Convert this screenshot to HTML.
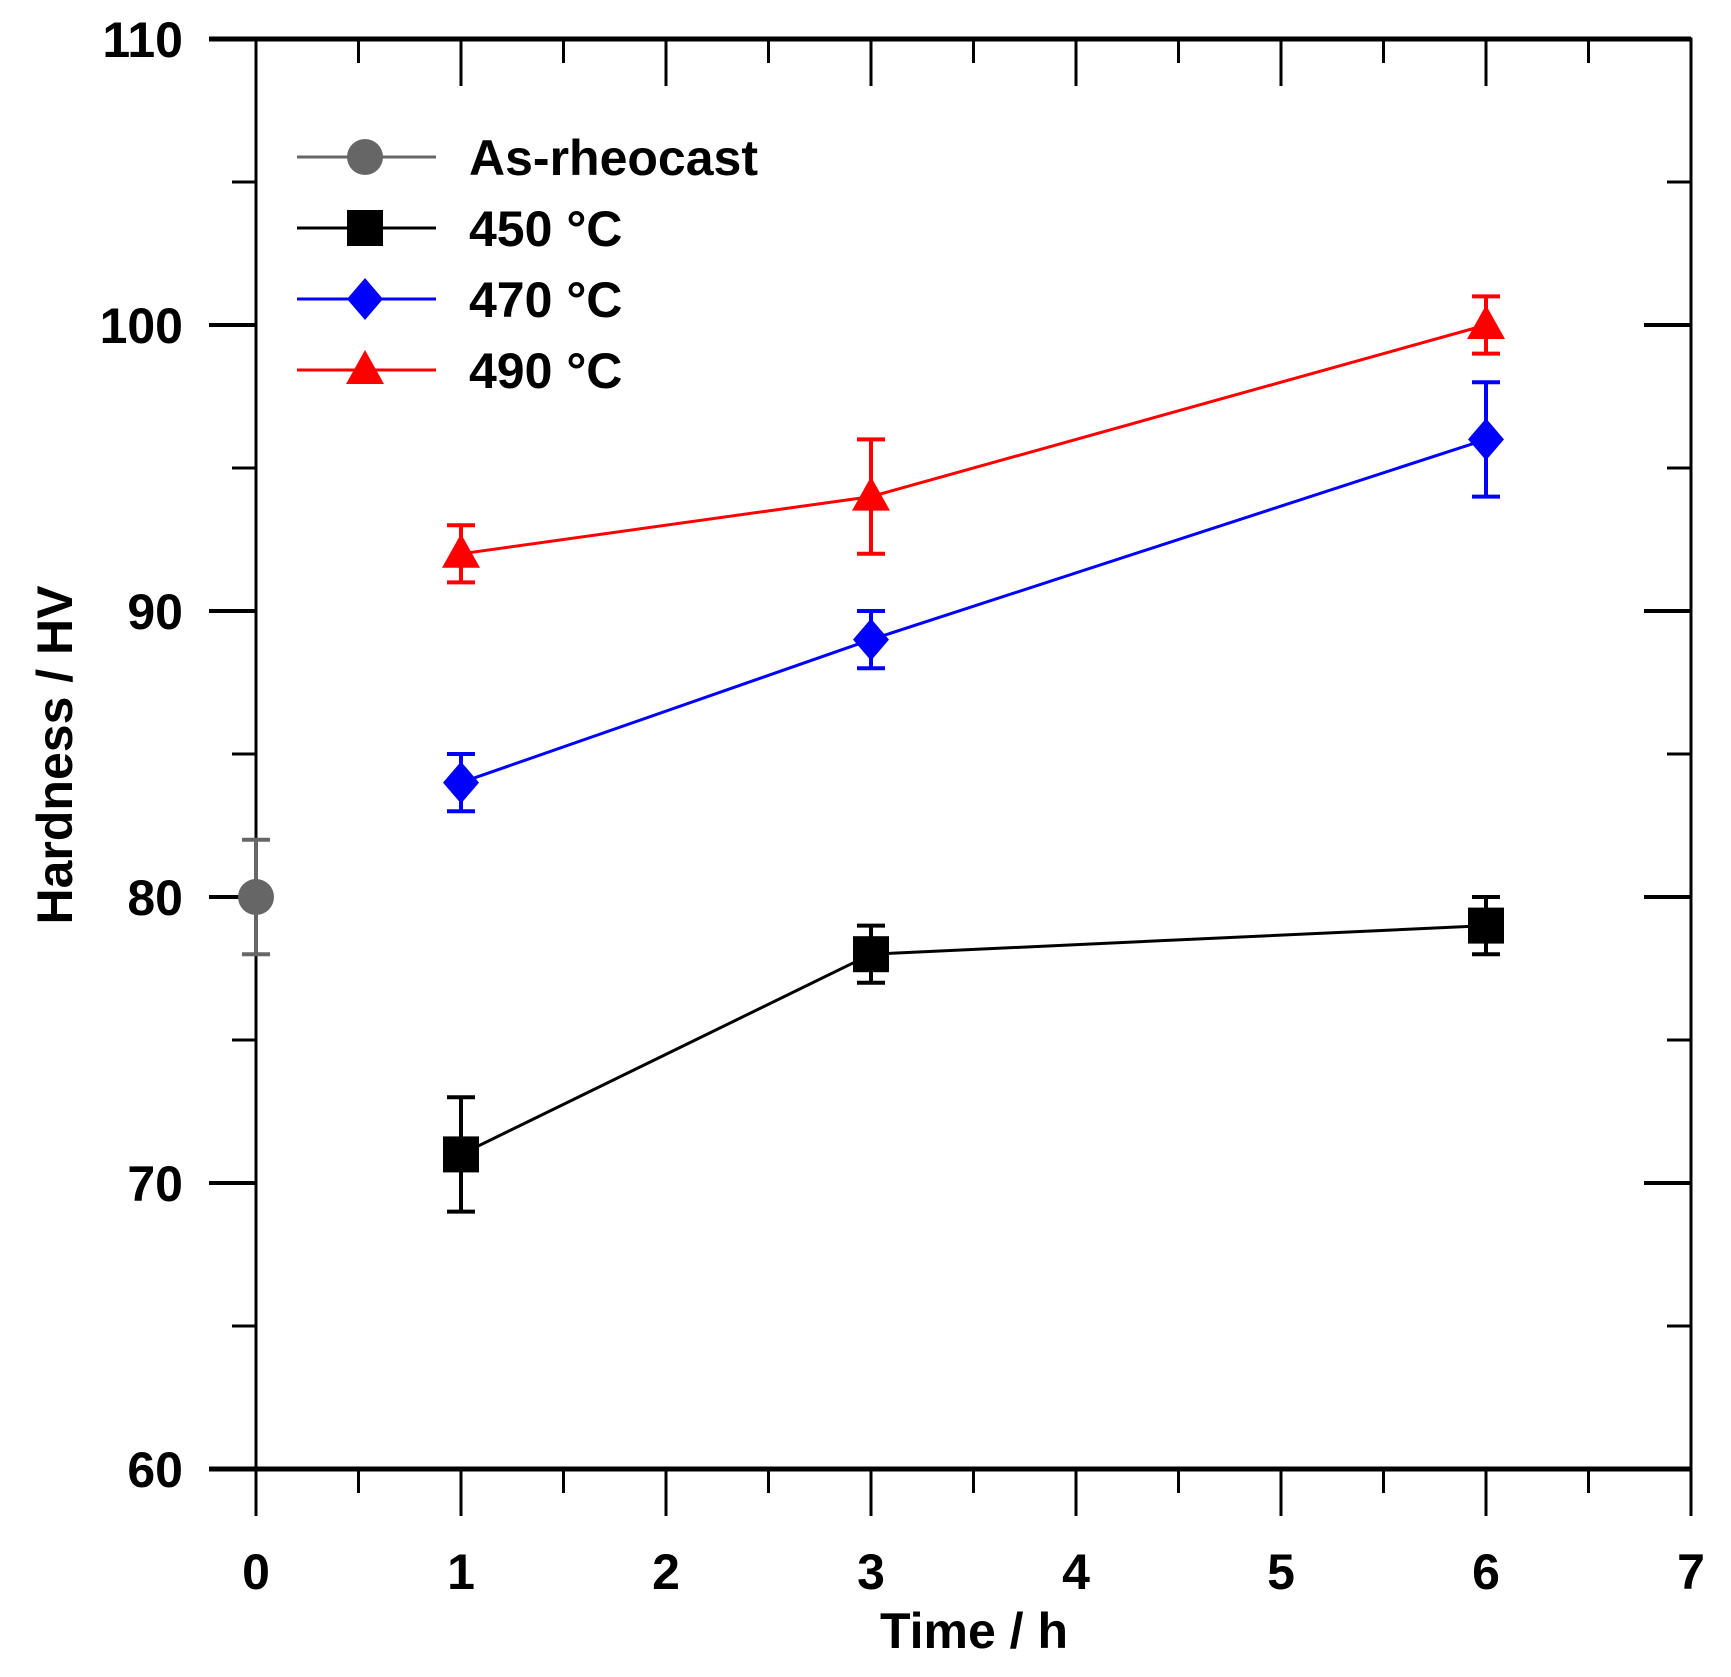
<!DOCTYPE html>
<html><head><meta charset="utf-8"><style>
html,body{margin:0;padding:0;background:#fff;}
svg{display:block;}
text{font-family:"Liberation Sans",Arial,sans-serif;font-weight:bold;fill:#000;}
</style></head><body>
<svg id="chart" width="1731" height="1677" viewBox="0 0 1731 1677" xmlns="http://www.w3.org/2000/svg">
<g id="axes"></g>
<g id="series"></g>
<g id="legend"></g>
<text transform="translate(72,755) rotate(-90)" text-anchor="middle" font-size="50">Hardness / HV</text>
<text x="974" y="1648" text-anchor="middle" font-size="50">Time / h</text>
</svg>
<script>
const xTicks = [0,1,2,3,4,5,6,7];
const yTicks = [60,70,80,90,100,110];
const seriesNames = ["As-rheocast","450 °C","470 °C","490 °C"];
const asX = [0];
const asY = [80];
const asErr = [2];
const x450 = [1,3,6];
const y450 = [71,78,79];
const e450 = [2,1,1];
const x470 = [1,3,6];
const y470 = [84,89,96];
const e470 = [1,1,2];
const x490 = [1,3,6];
const y490 = [92,94,100];
const e490 = [1,2,1];

const L=256,R=1691,T=39,B=1469;
const NS="http://www.w3.org/2000/svg";
function sx(v){return L+(v-0)/(7-0)*(R-L);}
function sy(v){return B-(v-60)/(110-60)*(B-T);}
function mk(tag,attrs,parent){const e=document.createElementNS(NS,tag);for(const k in attrs)e.setAttribute(k,attrs[k]);parent.appendChild(e);return e;}
const axes=document.getElementById('axes');
// frame
let fr=mk('rect',{x:L,y:T,width:R-L,height:B-T,fill:'none',stroke:'#000','stroke-width':3},axes);


let tl=mk('line',{x1:L-47,y1:T,x2:R,y2:T,stroke:'#000','stroke-width':5},axes);


let bl=mk('line',{x1:L-47,y1:B,x2:R,y2:B,stroke:'#000','stroke-width':5},axes);


// x ticks
xTicks.forEach((v,i)=>{
  const x=sx(v);
  let t=mk('line',{x1:x,y1:B,x2:x,y2:B+47,stroke:'#000','stroke-width':3},axes);
  
  
  let t2=mk('line',{x1:x,y1:T,x2:x,y2:T+47,stroke:'#000','stroke-width':3},axes);
  
  
  if(i<xTicks.length-1){
    const xm=sx(v+0.5);
    let m=mk('line',{x1:xm,y1:B,x2:xm,y2:B+24,stroke:'#000','stroke-width':3},axes);
    
    
    let m2=mk('line',{x1:xm,y1:T,x2:xm,y2:T+24,stroke:'#000','stroke-width':3},axes);
    
    
  }
  let lb=mk('text',{x:x,y:B+120,'text-anchor':'middle','font-size':50},axes);
  lb.textContent=v;
  
  
});
// y ticks
yTicks.forEach((v,i)=>{
  const y=sy(v);
  let t=mk('line',{x1:L-47,y1:y,x2:L,y2:y,stroke:'#000','stroke-width':4},axes);
  
  
  let t2=mk('line',{x1:R-47,y1:y,x2:R,y2:y,stroke:'#000','stroke-width':4},axes);
  
  
  if(i<yTicks.length-1){
    const ym=sy(v+5);
    let m=mk('line',{x1:L-24,y1:ym,x2:L,y2:ym,stroke:'#000','stroke-width':3},axes);
    
    
    let m2=mk('line',{x1:R-24,y1:ym,x2:R,y2:ym,stroke:'#000','stroke-width':3},axes);
    
    
  }
  let lb=mk('text',{x:L-73,y:y+18,'text-anchor':'end','font-size':50},axes);
  lb.textContent=v;
  
  
});
function marker(shape,cx,cy,color,parent){
  let e;
  if(shape==='circle') e=mk('circle',{cx:cx,cy:cy,r:18,fill:color},parent);
  else if(shape==='square') e=mk('rect',{x:cx-18,y:cy-18,width:36,height:36,fill:color},parent);
  else if(shape==='diamond') e=mk('polygon',{points:`${cx},${cy-21} ${cx+18},${cy} ${cx},${cy+21} ${cx-18},${cy}`,fill:color},parent);
  else e=mk('polygon',{points:`${cx},${cy-20} ${cx+19},${cy+14} ${cx-19},${cy+14}`,fill:color},parent);
  return e;
}
const ser=document.getElementById('series');
const defs=[
  {name:'as-rheocast',xs:asX,ys:asY,es:asErr,color:'#666',shape:'circle'},
  {name:'450c',xs:x450,ys:y450,es:e450,color:'#000',shape:'square'},
  {name:'470c',xs:x470,ys:y470,es:e470,color:'#0000ff',shape:'diamond'},
  {name:'490c',xs:x490,ys:y490,es:e490,color:'#ff0000',shape:'triangle'}
];
defs.forEach(d=>{
  const g=mk('g',{},ser);
  
  
  if(d.xs.length>1){
    const pl=mk('polyline',{points:d.xs.map((x,i)=>sx(x)+','+sy(d.ys[i])).join(' '),fill:'none',stroke:d.color,'stroke-width':3},g);
    
    
  }
  d.xs.forEach((x,i)=>{
    const cx=sx(x),y1=sy(d.ys[i]+d.es[i]),y2=sy(d.ys[i]-d.es[i]);
    const eb=mk('path',{d:`M${cx},${y1}V${y2}M${cx-14},${y1}H${cx+14}M${cx-14},${y2}H${cx+14}`,stroke:d.color,'stroke-width':4,fill:'none'},g);
    
    
    const m=marker(d.shape,cx,sy(d.ys[i]),d.color,g);
    
    
  });
});
const lg=document.getElementById('legend');
const legY=[157,228,299,370];
defs.forEach((d,i)=>{
  const g=mk('g',{},lg);
  
  
  mk('line',{x1:297,y1:legY[i],x2:436,y2:legY[i],stroke:d.color,'stroke-width':3},g);
  marker(d.shape,365,legY[i],d.color,g);
  const t=mk('text',{x:469,y:legY[i]+18,'font-size':50},g);
  t.textContent=seriesNames[i];
});
</script>
</body></html>
